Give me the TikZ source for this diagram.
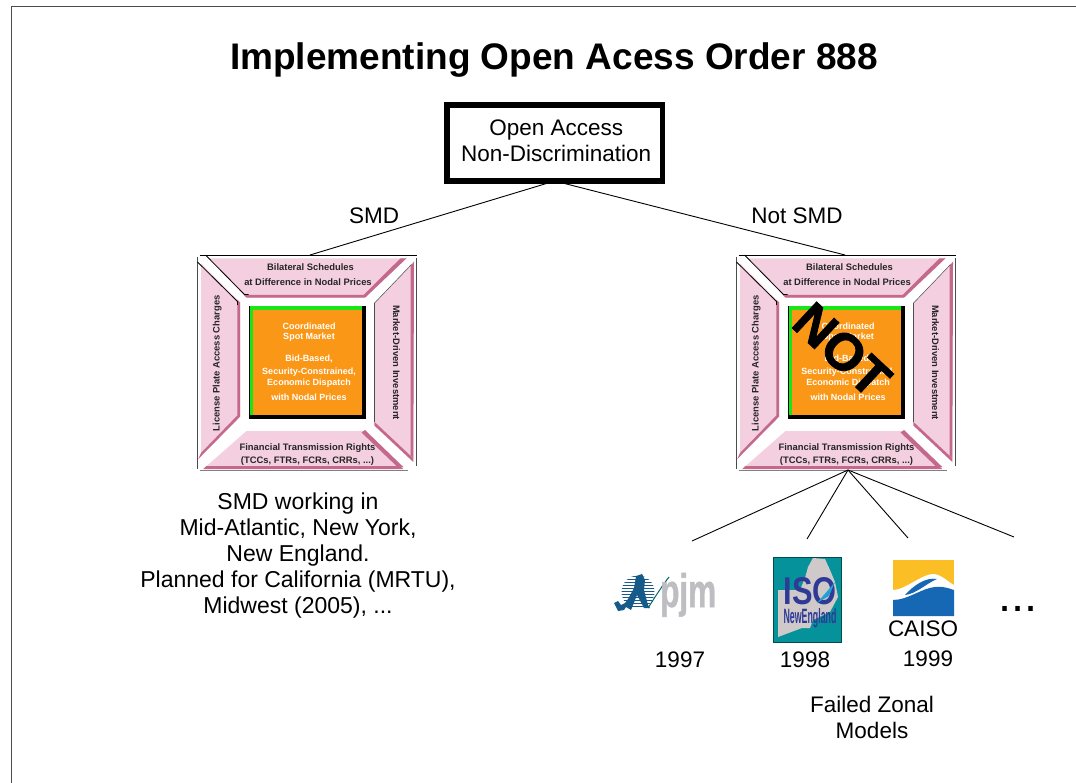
\documentclass[tikz,border=0pt]{standalone}
\usepackage{graphicx}
\usepackage{fontspec}
\setmainfont{Liberation Sans}
\newfontfamily\notfont[FakeBold=1.6]{Liberation Sans Bold}
\newfontfamily\pjmfont[FakeBold=1.2]{Liberation Sans Bold}
\definecolor{pinkfill}{HTML}{F4CFE0}
\definecolor{pinkedge}{HTML}{C4688C}
\definecolor{orangefill}{HTML}{FB9716}
\definecolor{greenedge}{HTML}{19E619}
\definecolor{pjmblue}{HTML}{155A88}
\definecolor{pjmgrey}{HTML}{BDBDC2}
\definecolor{isoteal}{HTML}{06929A}
\definecolor{isomap}{HTML}{CFC9C9}
\definecolor{isoblue}{HTML}{2E3A96}
\definecolor{caisoyellow}{HTML}{FBBE25}
\definecolor{caisoblue}{HTML}{1768B4}
\tikzset{
  x=1pt,y=-1pt,
  conn/.style={draw=black,line width=0.9pt},
  panel/.style={fill=pinkfill,draw=none},
  paneledge/.style={fill=pinkedge,draw=none},
  lab/.style={font=\fontsize{22.5}{26.5}\selectfont,inner sep=0pt,align=center},
  small/.style={font=\fontsize{9.4}{13.3}\selectfont\bfseries,inner sep=0pt,align=center,text=black!85},
  smallw/.style={font=\fontsize{9}{12}\selectfont\bfseries,inner sep=0pt,align=center,text=white},
  pics/cross/.style={code={
    % top panel
    \path[panel] (10.8,3.3) -- (209,3.3) -- (167.5,42.7) -- (49,42.7) -- cycle;
    \path[paneledge] (209,3.3) -- (167.5,42.7) -- (49,42.7) -- (46.5,40) -- (166,40) -- (203,3.3) -- cycle;
    % right panel
    \path[panel] (216.5,6.7) -- (176.8,48.3) -- (176.8,166.7) -- (215.8,203.3) -- cycle;
    \path[paneledge] (216.5,6.7) -- (215.8,203.3) -- (213,200.5) -- (213,11) -- cycle;
    \path[paneledge] (176.8,166.7) -- (215.8,203.3) -- (215.8,207) -- (176.8,170.5) -- cycle;
    \draw[black!70,line width=0.5pt] (176.8,48.3) -- (176.8,166.7);
    \draw[black!70,line width=0.5pt] (176.8,48.3) -- (214,9.5);
    % left panel
    \path[panel] (3.5,8.3) -- (42.5,47.3) -- (42.5,161.7) -- (0.8,203.5) -- (3.5,200) -- cycle;
    \path[paneledge] (42.5,47.3) -- (42.5,161.7) -- (0.8,204) -- (3.5,198) -- (39.8,160.5) -- (39.8,44.6) -- cycle;
    % bottom panel
    \path[panel] (49,176) -- (167.5,176) -- (205.8,213) -- (5.8,214) -- cycle;
    \path[paneledge] (167.5,175) -- (205.8,212) -- (200,212) -- (164,177.5) -- cycle;
    \path[paneledge] (5.8,214) -- (205.8,214) -- (202,211) -- (9,211) -- cycle;
    % outline and corner bands
    \draw[black,line width=0.8pt] (2,0) -- (219,0);
    \draw[black!70,line width=0.8pt] (-0.3,2) -- (-0.3,214);
    \draw[black!70,line width=0.8pt] (219,3) -- (219,211);
    \draw[black!50,line width=0.5pt] (2,214.8) -- (210,214.8);
    \draw[black,line width=0.8pt] (8,0) -- (47,39.5) -- (51,39.5);
    \draw[black,line width=0.8pt] (0,7) -- (40,46.5) -- (40,50);
    % core
    \fill[black] (51.8,50.7) rectangle (168.5,164);
    \fill[greenedge] (52.5,51.4) rectangle (164.8,160);
    \fill[orangefill] (55.8,55) rectangle (164.8,160);
    \node[small] at (113,11.7) {Bilateral Schedules};
    \node[small] at (110.5,26.7) {at Difference in Nodal Prices};
    \node[small,rotate=90] at (19.8,108.3) {License Plate Access Charges};
    \node[small,rotate=-90] at (199,107.5) {Market-Driven Investment};
    \node[small] at (110,199.3) {Financial Transmission Rights\\(TCCs, FTRs, FCRs, CRRs, ...)};
    \node[smallw] at (111.5,71.7) {Coordinated};
    \node[smallw] at (111.5,82.3) {Spot Market};
    \node[smallw] at (111.5,104.3) {Bid-Based,};
    \node[smallw] at (111.5,116.7) {Security-Constrained,};
    \node[smallw] at (111.5,128.3) {Economic Dispatch};
    \node[smallw] at (111.5,142.3) {with Nodal Prices};
  }}
}
\begin{document}
\begin{tikzpicture}
\useasboundingbox (0,0) rectangle (1076,783);
\fill[white] (0,0) rectangle (1076,783);
\draw[black!70,line width=1.4pt] (11.5,783) -- (11.5,6.5) -- (1076,6.5);

\node[inner sep=0pt,font=\fontsize{37}{37}\selectfont\bfseries] (title) at (554,60) {Implementing Open Acess Order 888};

\coordinate (leftTop) at (310,255);
\coordinate (rightTop) at (845,255);
\coordinate (rightBot) at (848,470);
\coordinate (c1) at (692,541);
\coordinate (c2) at (807,539);
\coordinate (c3) at (908,538);
\coordinate (c4) at (1014,537);

\node[draw=black,line width=5.5pt,outer sep=0pt,minimum width=215.5pt,minimum height=76pt,inner sep=0pt,font=\fontsize{22.5}{26}\selectfont] (root) at (554.7,143) {\hspace*{3pt}\raisebox{2pt}{\begin{tabular}{@{}c@{}}Open Access\\Non-Discrimination\end{tabular}}};

\draw[conn] (root.south) -- (leftTop);
\draw[conn] (root.south) -- (rightTop);

\pic at (197.5,255) {cross};
\pic at (736.5,255) {cross};

\draw[conn] (rightBot) -- (c1);
\draw[conn] (rightBot) -- (c2);
\draw[conn] (rightBot) -- (c3);
\draw[conn] (rightBot) -- (c4);

\node[lab] (smd) at (374,216) {SMD};
\node[lab] (notsmd) at (797,216) {Not SMD};

% NOT
\node[font=\fontsize{52}{52}\notfont,rotate=-43,inner sep=0pt] (notlab) at (842,350) {NOT};

\node[font=\fontsize{23}{26}\selectfont,inner sep=0pt,align=center] (desc) at (298,556) {SMD working in\\Mid-Atlantic, New York,\\New England.\\Planned for California (MRTU),\\Midwest (2005), ...};

% pjm logo
\begin{scope}
  \clip (638,592) circle (16.5pt);
  \foreach \yy in {575.5,578.5,...,610} \fill[pjmblue] (620,\yy) rectangle (656,\yy+1.9);
\end{scope}
\fill[pjmblue] (614,603) -- (618,601) -- (621,605) .. controls (626,605) and (630,595) .. (634,588) -- (636,576) -- (642,574) -- (645,580) -- (644,590) -- (648,605) -- (650,608) -- (644,608) -- (637,595) -- (631,610) -- (626,607) -- (624,610) -- (618,611) -- cycle;
\draw[isoteal!70!black,line width=1pt] (648,608) .. controls (655,597) and (662,586) .. (669,577);
\node[text=pjmgrey,inner sep=0pt,anchor=base west] (pjm) at (660,607) {\resizebox{56pt}{34pt}{\pjmfont pjm}};
\node[lab] (y97) at (680,660) {1997};

% ISO logo
\fill[isoteal] (773,557) rectangle (841.5,642.5);
\draw[teal!60!black,line width=0.6pt] (773.3,557.3) rectangle (841.2,642.2);
\fill[isomap] (808,567) -- (813,558) -- (825,559) -- (830,570) -- (835,582) -- (838,597) -- (830,612) -- (813,620) -- (810,628) -- (802,628) -- (778,637) -- (778,590) -- (800,590) -- (805,578) -- cycle;
\node[text=isoblue,font=\bfseries,inner sep=0pt] (iso) at (810,591.5) {\resizebox{53pt}{27pt}{ISO}};
\node[text=isoblue,font=\bfseries,inner sep=0pt] (ne) at (810,618) {\resizebox{53pt}{15pt}{NewEngland}};
\fill[cyan!70!teal] (817,603) -- (835,582) -- (829,596) -- (822,600) -- cycle;
\node[lab] (y98) at (805,660) {1998};

% CAISO logo
\fill[caisoyellow] (893,560) rectangle (954,590);
\fill[white] (893,590) .. controls (905,590) and (922,574) .. (933,574) .. controls (941,574) and (948,582) .. (954,585) -- (954,600) -- (893,603) -- cycle;
\fill[caisoblue] (893,600) .. controls (908,600) and (922,588) .. (935,587) .. controls (942,586) and (948,588) .. (954,590) -- (954,616) -- (893,616) -- cycle;
\fill[caisoblue] (905,595) .. controls (914,585) and (926,577) .. (937,579) .. controls (927,583) and (916,594) .. (905,595) -- cycle;
\node[lab] (caiso) at (923,629) {CAISO};
\node[lab] (y99) at (928,659) {1999};

\node[font=\fontsize{47}{47}\selectfont,inner sep=0pt,anchor=base] (dots) at (1018,611) {...};
\node[lab,font=\fontsize{22.5}{26}\selectfont] (failed) at (872,717) {Failed Zonal\\Models};
\end{tikzpicture}
\end{document}
